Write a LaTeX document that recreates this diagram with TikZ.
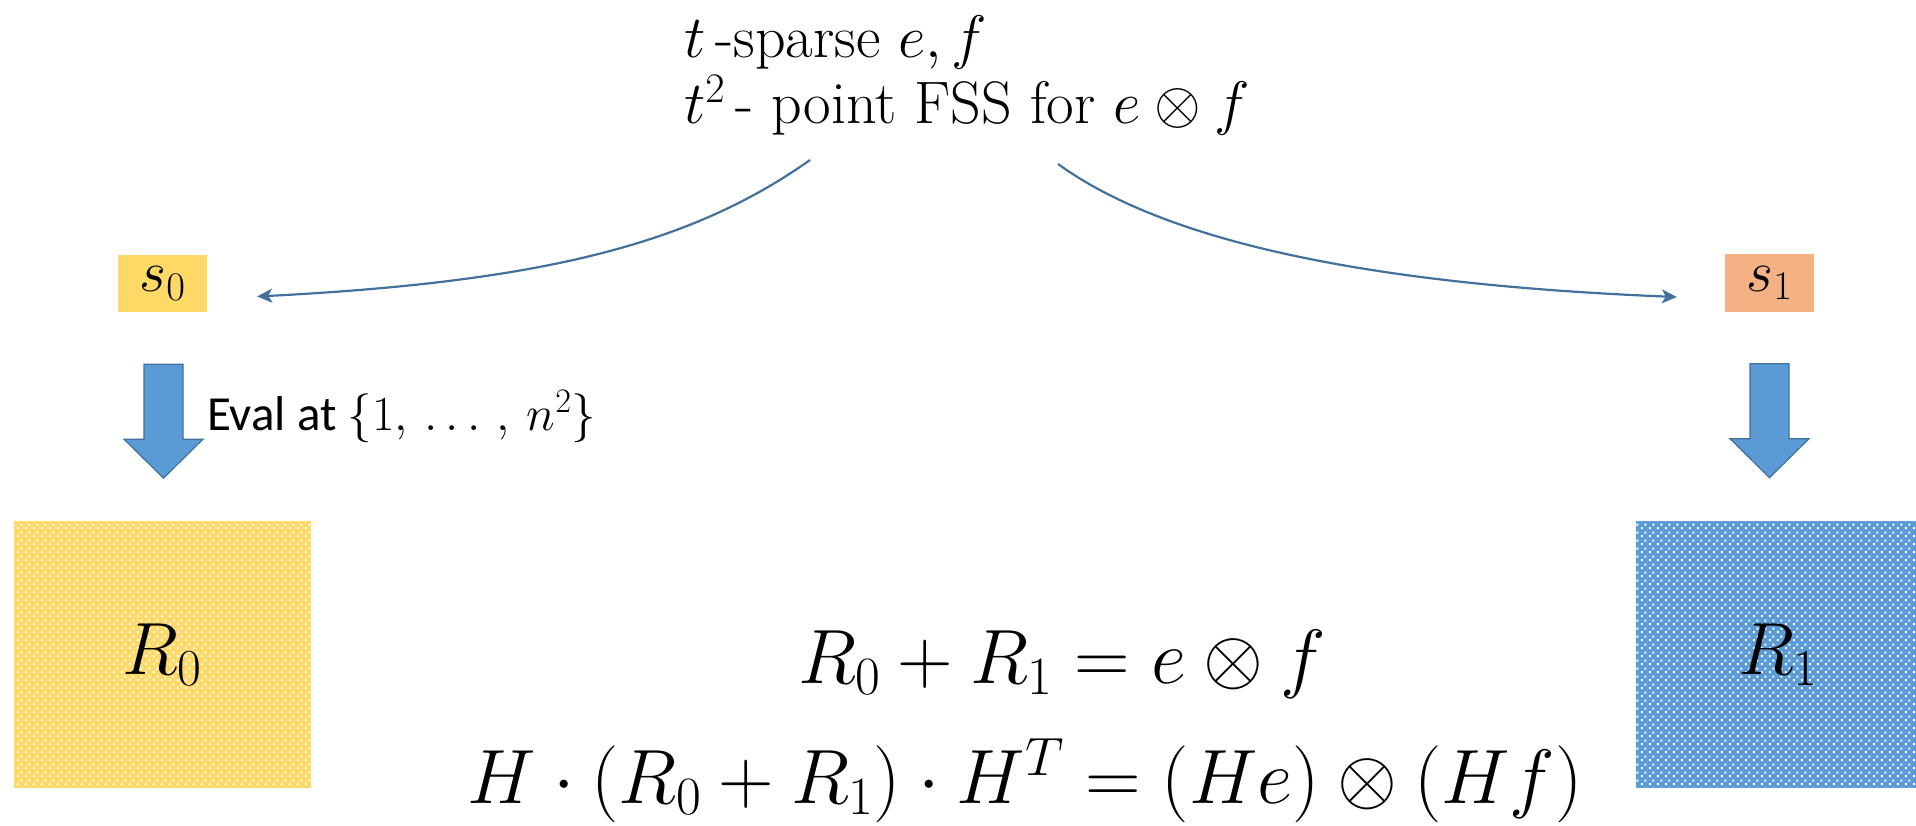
\RequirePackage{fix-cm}
\documentclass[tikz,border=0pt]{standalone}
\usepackage{amsmath}
\usepackage{fontspec}
\newfontfamily\calibri{Carlito}
\usetikzlibrary{patterns,arrows.meta,calc}
\definecolor{gold}{HTML}{FFD966}
\definecolor{peach}{HTML}{F4B183}
\definecolor{pptblue}{HTML}{5B9BD5}
\definecolor{pptline}{HTML}{41719C}
\pgfdeclarepatternformonly{pptdots}{\pgfpointorigin}{\pgfpoint{8pt}{8pt}}{\pgfpoint{8pt}{8pt}}{%
  \pgfpathrectangle{\pgfpoint{1pt}{1pt}}{\pgfpoint{2.2pt}{2.2pt}}%
  \pgfpathrectangle{\pgfpoint{5pt}{5pt}}{\pgfpoint{2.2pt}{2.2pt}}%
  \pgfusepath{fill}}
\tikzset{
  sbox/.style={minimum width=89pt, minimum height=57pt, inner sep=0pt, font=\fontsize{58}{66}\selectfont},
  rbox/.style={minimum width=#1, minimum height=267pt, inner sep=0pt,
    postaction={pattern=pptdots, pattern color=white}, font=\fontsize{74}{88}\selectfont},
  flow/.style={draw=pptline, line width=2.2pt, -{Stealth[length=15pt,width=14pt,inset=4pt]}},
  barrow/.style={fill=pptblue, draw=pptline, line width=1.2pt, line join=miter},
  toptext/.style={anchor=base west, inner sep=0pt, font=\fontsize{60}{70}\selectfont},
  eqtext/.style={anchor=base, inner sep=0pt, font=\fontsize{77}{92}\selectfont}
}
\begin{document}
\begin{tikzpicture}[x=1pt,y=-1pt]
\useasboundingbox (0,0) rectangle (1916,826);

% top text
\node[toptext] (top1) at (684,58) {$t$\,-sparse $e, f$};
\node[toptext] (top2) at (684,124) {$t^2$\,- point FSS for $e \otimes f$};

% shares
\node[sbox, fill=gold] (s0) at (162.5,283.5) {$s_0$};
\node[sbox, fill=peach] (s1) at (1769.5,283) {$s_1$};

% results
\node[rbox=297pt, fill=gold] (R0) at (162.5,654.5) {$R_0$};
\node[rbox=284pt, fill=pptblue] (R1) at (1778,654.5) {$R_1$};

% curved connectors
\coordinate (c0) at (810,160);
\coordinate (c0e) at ($(s0.east)+(50,13)$);
\coordinate (c1) at (1058,164);
\coordinate (c1e) at ($(s1.west)+(-48,14)$);
\draw[flow] (c0) .. controls (690,245) and (540,282) .. (c0e);
\draw[flow] (c1) .. controls (1170,245) and (1380,285) .. (c1e);

% block arrows
\coordinate (a0) at ($(s0.south)+(1,52)$);
\coordinate (a1) at ($(s1.south)+(0,52)$);
\draw[barrow] (a0) ++(-19.5,0) -- ++(39,0) -- ++(0,75) -- ++(20,0) -- ++(-39.5,39) -- ++(-39.5,-39) -- ++(20,0) -- cycle;
\draw[barrow] (a1) ++(-19.5,0) -- ++(39,0) -- ++(0,75) -- ++(20,0) -- ++(-39.5,39) -- ++(-39.5,-39) -- ++(20,0) -- cycle;

% label of the left arrow
\node[anchor=base west, inner sep=0pt, font=\calibri\fontsize{49}{58}\selectfont] (ev) at (207,430) {Eval at $\{1,\, \ldots\,,\, n^2\}$};

% equations
\node[eqtext] (eq1) at (1062,683) {$R_0 + R_1 = e \otimes f$};
\node[eqtext] (eq2) at (1025,803) {$H \cdot (R_0 + R_1) \cdot H^T = (He) \otimes (Hf)$};
\end{tikzpicture}
\end{document}
